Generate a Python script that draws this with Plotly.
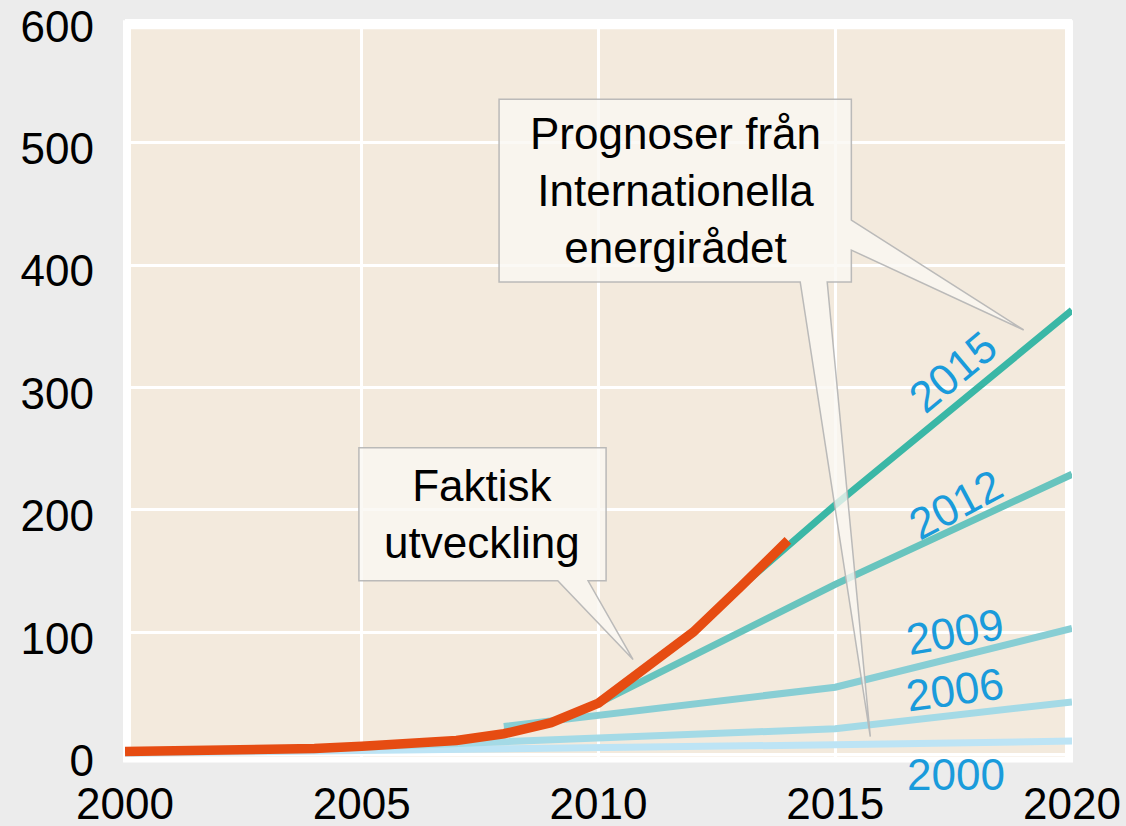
import plotly.graph_objects as go

# ---- data ----
actual_years = [2000, 2001, 2002, 2003, 2004, 2005, 2006, 2007, 2008, 2009, 2010, 2011, 2012, 2013, 2014]
actual_vals = [2.4, 2.8, 3.3, 4.0, 5.0, 6.8, 9.0, 11.5, 17.0, 26.0, 42.0, 70.0, 100.0, 137.0, 175.0]

weo2015_years = [2013, 2015, 2020]
weo2015_vals = [137, 204, 363]
weo2012_years = [2010, 2015, 2020]
weo2012_vals = [42, 139, 229]
weo2009_years = [2008, 2015, 2020]
weo2009_vals = [23, 55, 103]
weo2006_years = [2005, 2010, 2015, 2020]
weo2006_vals = [6, 14, 21, 43]
weo2000_years = [2000, 2010, 2015, 2020]
weo2000_vals = [1, 5, 8, 11]

x_ticks = [2000, 2005, 2010, 2015, 2020]
y_ticks = [0, 100, 200, 300, 400, 500, 600]

FONT = "Liberation Sans, Arial, sans-serif"
LABEL_BLUE = "#1a9bdb"

fig = go.Figure()

proj = [
    (weo2000_years, weo2000_vals, "#bde4f5"),
    (weo2006_years, weo2006_vals, "#a4dae6"),
    (weo2009_years, weo2009_vals, "#88ced4"),
    (weo2012_years, weo2012_vals, "#68c4be"),
    (weo2015_years, weo2015_vals, "#3ab7a6"),
]
for xs, ys, col in proj:
    fig.add_trace(go.Scatter(x=xs, y=ys, mode="lines",
                             line=dict(color=col, width=7), hoverinfo="skip"))

fig.add_trace(go.Scatter(x=actual_years, y=actual_vals, mode="lines",
                         line=dict(color="#e64c12", width=9.5), hoverinfo="skip"))

# frame (white) and plot background (beige)
fig.add_shape(type="rect", xref="paper", yref="paper", x0=-0.0021, x1=1.0011,
              y0=-0.0075, y1=0.9983, fillcolor="white", line_width=0, layer="below")
fig.add_shape(type="rect", xref="paper", yref="paper", x0=0.0063, x1=0.9926,
              y0=0.0006, y1=0.9861, fillcolor="#f3eadd", line_width=0, layer="below")

# callouts
callout_fill = "rgba(250,247,242,0.78)"
callout_line = dict(color="rgba(180,180,180,0.9)", width=1.5)
fig.add_shape(type="path", xref="x", yref="y", layer="above",
              path=("M 2004.94,250.6 L 2010.16,250.6 L 2010.16,142 L 2009.78,142 "
                    "L 2010.73,77.6 L 2009.14,142 L 2004.94,142 Z"),
              fillcolor=callout_fill, line=callout_line)
fig.add_shape(type="path", xref="x", yref="y", layer="above",
              path=("M 2007.90,535.5 L 2015.34,535.5 L 2015.34,436.7 L 2018.98,346.9 "
                    "L 2015.34,412.2 L 2015.34,386.1 L 2014.83,386.1 L 2015.74,14.7 "
                    "L 2014.26,386.1 L 2007.90,386.1 Z"),
              fillcolor=callout_fill, line=callout_line)

fig.add_annotation(x=2007.54, y=196.3, xref="x", yref="y", showarrow=False,
                   text="Faktisk<br>utveckling", align="center",
                   font=dict(family=FONT, size=44, color="black"))
fig.add_annotation(x=2011.62, y=460.8, xref="x", yref="y", showarrow=False,
                   text="Prognoser från<br>Internationella<br>energirådet", align="center",
                   font=dict(family=FONT, size=44, color="black"))

year_labels = [
    ("2015", 2017.49, 312.7, -40),
    ("2012", 2017.54, 204.0, -28),
    ("2009", 2017.52, 100.4, -10),
    ("2006", 2017.52, 53.0, -8),
]
for t, x, y, ang in year_labels:
    fig.add_annotation(x=x, y=y, xref="x", yref="y", showarrow=False, text=t,
                       textangle=ang, font=dict(family=FONT, size=44, color=LABEL_BLUE))
# label below the plot area (outside the y range -> paper reference)
fig.add_annotation(x=2017.56, y=-0.0238, xref="x", yref="paper", showarrow=False,
                   yanchor="middle", xanchor="center",
                   text="2000", font=dict(family=FONT, size=44, color=LABEL_BLUE))

fig.update_layout(
    width=1126, height=826,
    margin=dict(l=125, r=54, t=18.8, b=68.55, autoexpand=False),
    paper_bgcolor="#ececec", plot_bgcolor="rgba(0,0,0,0)",
    showlegend=False,
    font=dict(family=FONT, size=44, color="black"),
)
fig.update_xaxes(range=[2000, 2020], tickvals=x_ticks, ticktext=[str(v) for v in x_ticks],
                 showgrid=True, gridcolor="white", gridwidth=3, zeroline=False,
                 showline=False, ticks="", ticklabelstandoff=17, automargin=False,
                 tickfont=dict(family=FONT, size=44, color="black"))
fig.update_yaxes(range=[-2, 601], tickvals=y_ticks,
                 showgrid=True, gridcolor="white", gridwidth=3, zeroline=False,
                 showline=False, ticks="", ticklabelstandoff=30, ticklabelshift=6,
                 automargin=False,
                 tickfont=dict(family=FONT, size=44, color="black"))

fig.write_html("out.html", config={"displayModeBar": False},
               post_script="document.body.style.margin='0';document.body.style.overflow='hidden';")
